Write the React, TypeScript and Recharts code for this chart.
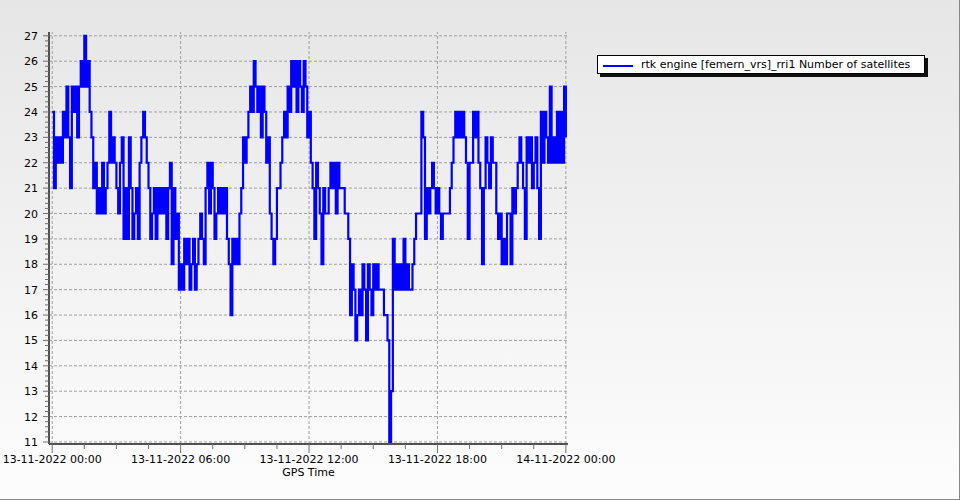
import React from 'react';
import { LineChart, Line, XAxis, YAxis, ReferenceLine, Legend } from 'recharts';

const SERIES_NAME = 'rtk engine [femern_vrs]_rri1 Number of satellites';
const X_TITLE = 'GPS Time';
const STEP_MINUTES = 5;

// Number of satellites, one value every 5 minutes (12 per hour)
const SATS_00_06 = [
  24, 21, 23, 22, 23, 22, 24, 23, 25, 23, 21, 25,
  24, 25, 23, 25, 26, 25, 27, 25, 26, 24, 23, 21,
  22, 20, 21, 20, 22, 20, 21, 22, 24, 22, 23, 22,
  21, 20, 22, 23, 19, 21, 19, 23, 21, 19, 20, 21,
  19, 22, 23, 24, 23, 22, 21, 19, 20, 21, 19, 21,
  20, 21, 20, 21, 19, 21, 22, 18, 21, 19, 20, 17,
];
const SATS_06_12 = [
  18, 17, 19, 18, 19, 17, 18, 19, 17, 18, 19, 20,
  19, 18, 21, 22, 20, 22, 21, 19, 20, 21, 20, 21,
  20, 21, 19, 18, 16, 19, 18, 19, 18, 20, 21, 23,
  22, 23, 24, 25, 24, 26, 25, 24, 25, 23, 25, 24,
  22, 23, 20, 19, 18, 19, 21, 21, 22, 23, 24, 23,
  25, 24, 26, 25, 26, 24, 26, 25, 24, 26, 25, 23,
];
const SATS_12_18 = [
  24, 22, 21, 19, 22, 21, 20, 18, 21, 20, 20, 21,
  22, 21, 22, 20, 22, 21, 21, 21, 20, 20, 19, 16,
  18, 17, 15, 16, 17, 16, 18, 17, 15, 18, 17, 16,
  18, 17, 18, 17, 17, 17, 16, 16, 15, 11, 13, 19,
  17, 18, 17, 18, 17, 19, 17, 18, 17, 17, 18, 19,
  20, 20, 20, 24, 23, 19, 21, 20, 21, 22, 21, 20,
];
const SATS_18_24 = [
  21, 20, 19, 20, 20, 20, 20, 21, 22, 23, 24, 23,
  24, 23, 24, 23, 22, 19, 22, 22, 24, 23, 24, 22,
  21, 18, 21, 23, 22, 21, 23, 22, 22, 20, 19, 20,
  18, 19, 18, 20, 20, 18, 21, 20, 21, 22, 23, 22,
  21, 19, 23, 22, 23, 21, 22, 23, 21, 19, 24, 22,
  24, 23, 22, 25, 22, 23, 22, 24, 22, 24, 22, 25,
];
const SATS_END = [23];

const X_MAJOR = [0, 360, 720, 1080, 1440];
const X_LABELS = ['13-11-2022 00:00', '13-11-2022 06:00', '13-11-2022 12:00', '13-11-2022 18:00', '14-11-2022 00:00'];
const X_MINOR = [90, 180, 270, 450, 540, 630, 810, 900, 990, 1170, 1260, 1350];
const Y_MAJOR = [11, 12, 13, 14, 15, 16, 17, 18, 19, 20, 21, 22, 23, 24, 25, 26, 27];

const ALL_SATS = [...SATS_00_06, ...SATS_06_12, ...SATS_12_18, ...SATS_18_24, ...SATS_END];
const data = ALL_SATS.map((v, i) => ({ t: i * STEP_MINUTES, sats: v }));

const X_TICKS = [...X_MAJOR, ...X_MINOR].sort((a, b) => a - b);
const Y_TICKS: number[] = [];
Y_MAJOR.forEach((v, i) => {
  Y_TICKS.push(v);
  if (i < Y_MAJOR.length - 1) {
    [0.2, 0.4, 0.6, 0.8].forEach((f) => Y_TICKS.push(Math.round((v + f) * 10) / 10));
  }
});

const FONT = 'DejaVu Sans';

const XTick = (props: any) => {
  const { x, y, payload } = props;
  const idx = X_MAJOR.indexOf(payload.value);
  const major = idx >= 0;
  return (
    <g>
      <line x1={x} x2={x} y1={y} y2={y + (major ? 9 : 5)} stroke="#707070" strokeWidth={1} />
      {major && (
        <text x={x} y={y + 19} textAnchor="middle" fontSize={11} fontFamily={FONT} fill="#000">
          {X_LABELS[idx]}
        </text>
      )}
    </g>
  );
};

const YTick = (props: any) => {
  const { x, y, payload } = props;
  const v = payload.value;
  const major = Number.isInteger(v);
  return (
    <g>
      <line x1={x - (major ? 6 : 4)} x2={x} y1={y} y2={y} stroke="#707070" strokeWidth={1} />
      {major && (
        <text x={x - 11} y={y + 4} textAnchor="end" fontSize={11} fontFamily={FONT} fill="#000">
          {String(v)}
        </text>
      )}
    </g>
  );
};

const renderLegend = () => (
  <div
    style={{
      boxSizing: 'border-box',
      width: 328,
      height: 19,
      border: '1px solid #000',
      background: '#fff',
      boxShadow: '3px 3px 0 #101010',
      display: 'flex',
      alignItems: 'center',
      paddingLeft: 5,
      fontFamily: FONT,
      fontSize: 11,
      color: '#000',
      whiteSpace: 'nowrap',
      lineHeight: '17px',
    }}
  >
    <span style={{ display: 'inline-block', width: 30, height: 2, background: '#0000ff', marginRight: 8, marginTop: 2 }} />
    <span>{SERIES_NAME}</span>
  </div>
);

export default function App() {
  return (
    <div
      style={{
        position: 'absolute',
        left: 0,
        top: 0,
        width: 959,
        height: 499,
        borderRight: '1px solid #888',
        borderBottom: '1px solid #888',
        background: 'linear-gradient(#e6e6e6, #fdfdfd)',
        fontFamily: FONT,
      }}
    >
      <LineChart width={960} height={500} data={data} margin={{ top: 32, right: 392, bottom: 0, left: 0 }}>
        <XAxis
          dataKey="t"
          type="number"
          domain={[-9, 1446]}
          allowDataOverflow
          ticks={X_TICKS}
          interval={0}
          height={56}
          tickSize={0}
          tickMargin={0}
          tickLine={false}
          tick={XTick}
          axisLine={{ stroke: '#505050', strokeWidth: 2 }}
          label={{ value: X_TITLE, position: 'insideBottom', offset: 24, fontSize: 11, fontFamily: FONT, fill: '#000' }}
        />
        <YAxis
          type="number"
          domain={[10.92, 27.15]}
          allowDataOverflow
          ticks={Y_TICKS}
          interval={0}
          width={49}
          tickSize={0}
          tickMargin={0}
          tickLine={false}
          tick={YTick}
          axisLine={{ stroke: '#505050', strokeWidth: 2 }}
        />
        {Y_MAJOR.map((v) => (
          <ReferenceLine key={'y' + v} y={v} stroke="#a0a0a0" strokeDasharray="3 2" />
        ))}
        {X_MAJOR.map((v) => (
          <ReferenceLine key={'x' + v} x={v} stroke="#a0a0a0" strokeDasharray="3 2" />
        ))}
        <Legend
          verticalAlign="middle"
          align="center"
          layout="horizontal"
          wrapperStyle={{ top: 55, left: 597, width: 'auto', height: 'auto' }}
          content={renderLegend}
        />
        <Line
          type="stepAfter"
          dataKey="sats"
          name={SERIES_NAME}
          stroke="#0000ff"
          strokeWidth={2.2}
          dot={false}
          isAnimationActive={false}
        />
      </LineChart>
    </div>
  );
}
